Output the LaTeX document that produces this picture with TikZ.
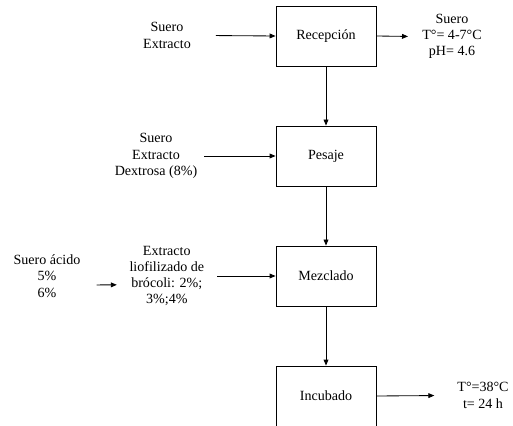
\documentclass[tikz,border=0pt]{standalone}
\usepackage{fontspec}
\setmainfont{Liberation Serif}
\usepackage{tikz}
\usetikzlibrary{arrows.meta,positioning}

\begin{document}
\begin{tikzpicture}[
proc/.style={draw, line width=0.6pt, minimum width=2.5cm, minimum height=1.5cm,
align=center, font=\fontsize{10}{11.5}\selectfont},
txt/.style={align=center, inner sep=2pt, font=\fontsize{10}{11.5}\selectfont},
arrow/.style={-{Triangle[length=1.5mm,width=1.2mm]}, line width=0.6pt}
]
\useasboundingbox (0,0) rectangle (12.825,10.625);

\node[proc] (rec) at (8.15,9.725) {Recepción};
\node[proc] (pes) at (8.15,6.725) {Pesaje};
\node[proc] (mez) at (8.15,3.725) {Mezclado};
\node[proc] (inc) at (8.15,0.725) {Incubado};

\node[txt] (in1) at (4.175,9.74) {Suero\\Extracto};
\node[txt] (out1) at (11.3,9.71) {Suero\\T°= 4-7°C\\pH= 4.6};
\node[txt] (in2) at (3.9,6.725) {Suero\\Extracto\\Dextrosa (8\%)};
\node[txt] (acid) at (1.175,3.72) {Suero ácido\\5\%\\6\%};
\node[txt] (broc) at (4.17,3.725) {Extracto\\liofilizado de\\brócoli: 2\%;\\3\%;4\%};
\node[txt] (out4) at (12.075,0.74) {T°=38°C\\t= 24 h};

\draw[arrow] (rec.south) -- (pes.north);
\draw[arrow] (pes.south) -- (mez.north);
\draw[arrow] (mez.south) -- (inc.north);

\draw[arrow, shorten <=0.55cm] (in1.east) -- (rec.west);
\draw[arrow, shorten >=0.28cm] (rec.east) -- (out1.west);
\draw[arrow, shorten <=0.1cm] (in2.east) -- (pes.west);
\draw[arrow, shorten <=0.33cm, shorten >=0.24cm]
([yshift=-0.22cm]acid.east) -- ([yshift=-0.22cm]broc.west);
\draw[arrow, shorten <=0.25cm] (broc.east) -- (mez.west);
\draw[arrow, shorten >=0.5cm] (inc.east) -- (out4.west);

\end{tikzpicture}
\end{document}
